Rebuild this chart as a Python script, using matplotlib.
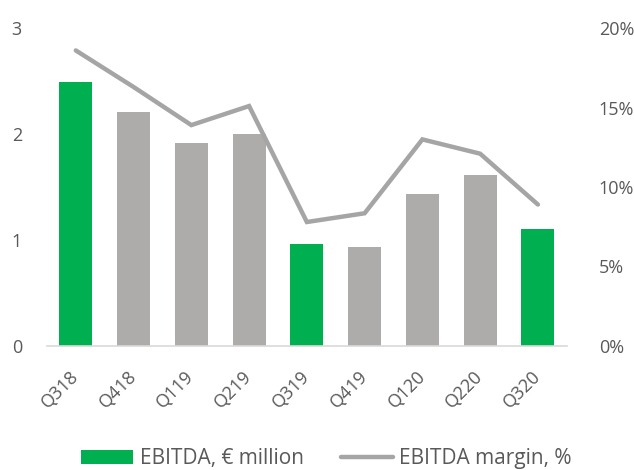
import matplotlib
matplotlib.use("Agg")
import matplotlib.pyplot as plt
from matplotlib.ticker import FuncFormatter
from matplotlib.lines import Line2D
from matplotlib.patches import Patch

categories = ["Q318", "Q418", "Q119", "Q219", "Q319", "Q419", "Q120", "Q220", "Q320"]
ebitda = [2.49, 2.21, 1.92, 2.00, 0.96, 0.93, 1.43, 1.61, 1.10]
margin = [18.6, 16.3, 13.9, 15.1, 7.8, 8.35, 13.0, 12.1, 8.9]
highlight = [True, False, False, False, True, False, False, False, True]

GREEN = "#00B050"
BARGRAY = "#AEABAB"
LINEGRAY = "#A5A5A5"
TXT = "#595959"

plt.rcParams['font.family'] = ['Open Sans', 'DejaVu Sans']
FS = 13

fig = plt.figure(figsize=(6.34, 4.70), dpi=100)
ax = fig.add_axes([0.074, 0.264, 0.820, 0.676])
ax2 = ax.twinx()

x = list(range(len(categories)))
colors = [GREEN if h else BARGRAY for h in highlight]
ax.bar(x, ebitda, width=0.57, color=colors, zorder=2)
ax2.plot(x, margin, color=LINEGRAY, lw=3.2, solid_capstyle='round', solid_joinstyle='miter', zorder=3)

ax.set_xlim(-0.5, len(categories) - 0.5)
ax.set_ylim(0, 3)
ax.set_yticks([0, 1, 2, 3])
ax2.set_ylim(0, 20)
ax2.set_yticks([0, 5, 10, 15, 20])
ax2.yaxis.set_major_formatter(FuncFormatter(lambda v, p: f"{int(v)}%"))

ax.set_xticks(x)
ax.set_xticklabels(categories, rotation=45, ha='right', va='center', rotation_mode='anchor')

for a in (ax, ax2):
    for s in a.spines.values():
        s.set_visible(False)
    a.tick_params(length=0, colors=TXT, labelsize=FS)
ax.spines['bottom'].set_visible(True)
ax.spines['bottom'].set_color('#D9D9D9')
ax.spines['bottom'].set_linewidth(1.2)
ax.tick_params(axis='y', pad=18)
ax2.tick_params(axis='y', pad=23)
ax.tick_params(axis='x', pad=20)

handles = [Patch(facecolor=GREEN, edgecolor='none'),
           Line2D([0], [0], color=LINEGRAY, lw=3.2, solid_capstyle='round')]
fig.legend(handles, ["EBITDA, € million", "EBITDA margin, %"], loc='center',
           bbox_to_anchor=(0.515, 0.024), ncol=2, frameon=False, fontsize=15,
           labelcolor=TXT, handlelength=2.5, handleheight=0.7, columnspacing=1.8,
           handletextpad=0.3, borderpad=0, borderaxespad=0)

fig.savefig("out.png", dpi=100)
